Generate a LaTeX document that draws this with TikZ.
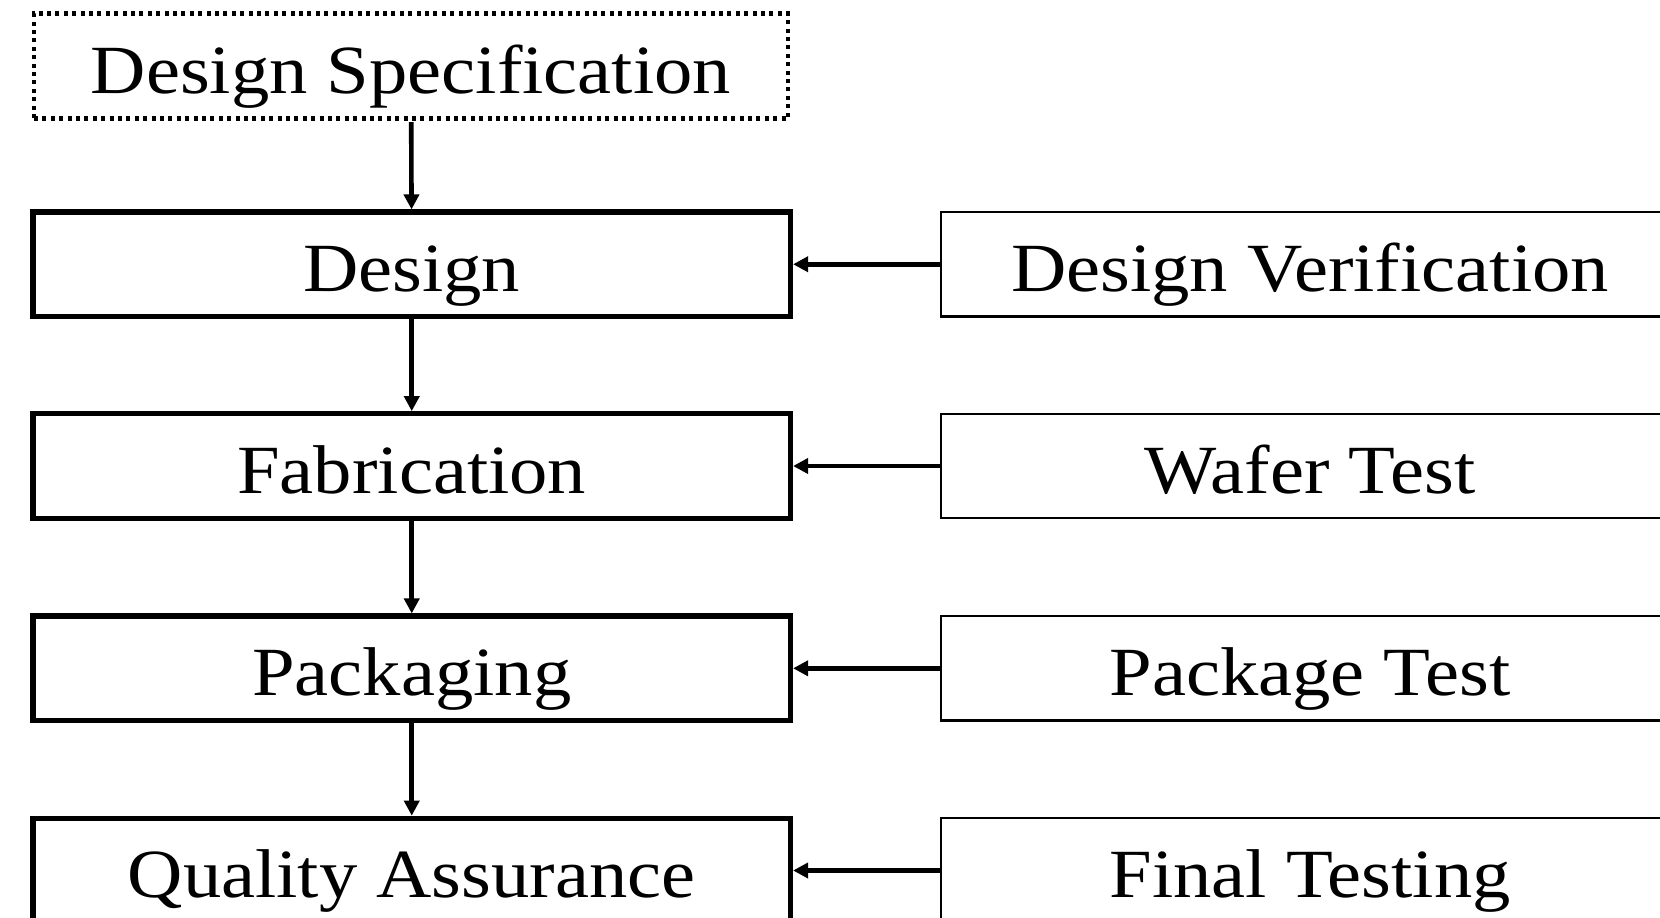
\documentclass[tikz,border=0pt]{standalone}
\usepackage{fontspec}
\setmainfont[FakeStretch=1.11]{Liberation Serif}
\usetikzlibrary{arrows.meta}
\begin{document}
\begin{tikzpicture}[x=1pt,y=-1pt,
  boxtext/.style={font=\fontsize{69pt}{80pt}\selectfont, inner sep=0pt, text height=60pt, text depth=6pt, align=center},
  mainbox/.style={boxtext, draw=black, line width=5.2pt, minimum width=757.5pt, minimum height=104.5pt},
  specbox/.style={boxtext, draw=black, line width=4.2pt, dash pattern=on 4pt off 4.4pt, minimum width=754pt, minimum height=105pt},
  testbox/.style={boxtext, draw=black, line width=2.3pt, minimum width=738pt, minimum height=104.5pt},
  arr/.style={line width=4.6pt, -{Triangle[length=15pt,width=15pt]}}]
\useasboundingbox (0,0) rectangle (1660,918);
\node[specbox] (spec) at (411,66) {Design Specification};
\node[mainbox] (design) at (411.75,264.25) {Design};
\node[mainbox] (fab) at (411.75,466) {Fabrication};
\node[mainbox] (pack) at (411.75,668.3) {Packaging};
\node[mainbox] (qa) at (411.75,870.5) {Quality Assurance};
\node[testbox] (dv) at (1310,264.25) {Design Verification};
\node[testbox] (wt) at (1310,466) {Wafer Test};
\node[testbox] (pt) at (1310,668.3) {Package Test};
\node[testbox] (ft) at (1310,870.5) {Final Testing};
\draw[arr, shorten <=1.5pt] (spec) -- (design);
\draw[arr] (design) -- (fab);
\draw[arr] (fab) -- (pack);
\draw[arr] (pack) -- (qa);
\draw[arr] (dv) -- (design);
\draw[arr] (wt) -- (fab);
\draw[arr] (pt) -- (pack);
\draw[arr] (ft) -- (qa);
\end{tikzpicture}
\end{document}
